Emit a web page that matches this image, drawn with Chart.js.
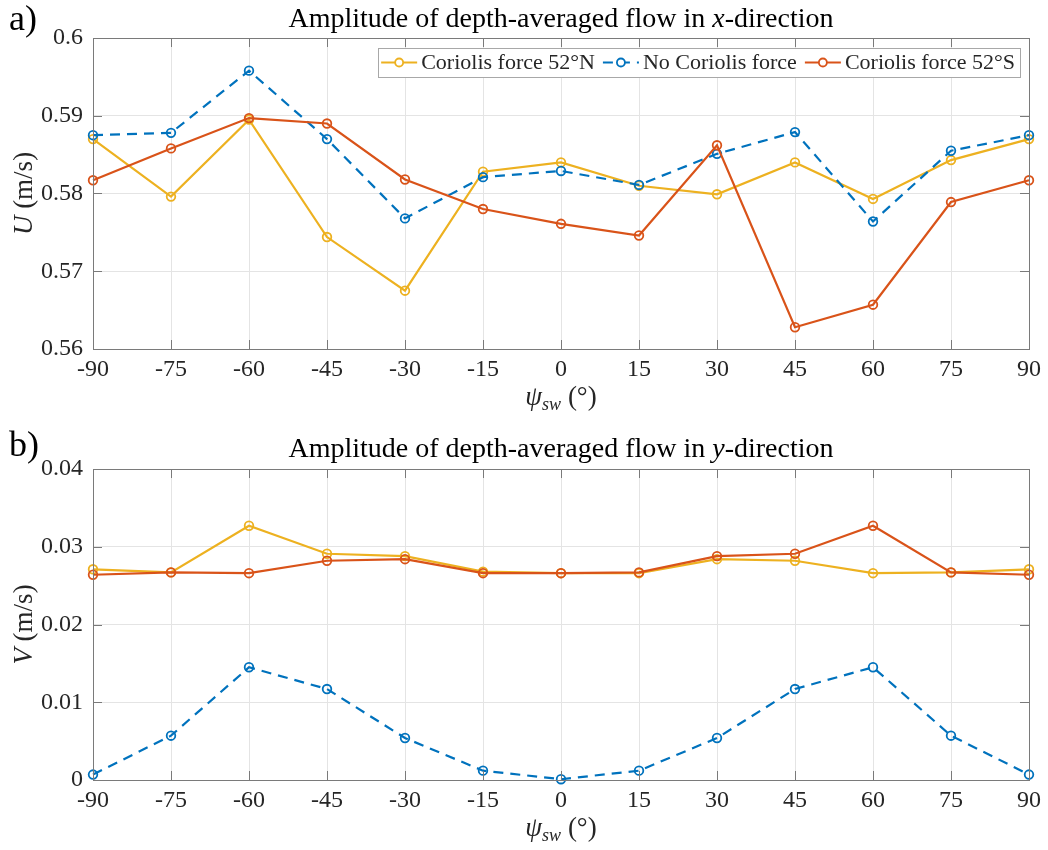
<!DOCTYPE html>
<html><head><meta charset="utf-8">
<script src="https://cdn.jsdelivr.net/npm/chart.js@4.4.0/dist/chart.umd.min.js"></script>
<style>
html,body{margin:0;padding:0;background:#fff;}
#wrap{width:1048px;height:850px;position:relative;background:#fff;}
canvas{position:absolute;left:0;}
</style></head><body>
<div id="wrap">
<canvas id="c1" width="1048" height="425" style="top:0"></canvas>
<canvas id="c2" width="1048" height="425" style="top:425px"></canvas>
</div>
<script>
// ---- data ----
const angles = [-90,-75,-60,-45,-30,-15,0,15,30,45,60,75,90];
const xTickLabels = ['-90','-75','-60','-45','-30','-15','0','15','30','45','60','75','90'];
const seriesNames = ['Coriolis force 52°N','No Coriolis force','Coriolis force 52°S'];

const uNorth = [0.5870,0.5796,0.5895,0.5744,0.5675,0.5828,0.5840,0.5810,0.5799,0.5840,0.5793,0.5843,0.5870];
const uNone  = [0.5875,0.5878,0.5958,0.5870,0.5768,0.5821,0.5829,0.5811,0.5851,0.5879,0.5764,0.5855,0.5875];
const uSouth = [0.5817,0.5858,0.5897,0.5890,0.5818,0.5780,0.5761,0.5746,0.5862,0.5628,0.5657,0.5789,0.5817];
const uTickLabels = ['0.56','0.57','0.58','0.59','0.6'];

const vNorth = [0.0271,0.0267,0.0327,0.0291,0.0288,0.0268,0.0266,0.0266,0.0284,0.0282,0.0266,0.0267,0.0271];
const vNone  = [0.0007,0.0057,0.0145,0.0117,0.0054,0.0012,0.0001,0.0012,0.0054,0.0117,0.0145,0.0057,0.0007];
const vSouth = [0.0264,0.0267,0.0266,0.0282,0.0284,0.0266,0.0266,0.0267,0.0288,0.0291,0.0327,0.0267,0.0264];
const vTickLabels = ['0','0.01','0.02','0.03','0.04'];

// ---- styles ----
const FONT = "'Liberation Serif', serif";
const colors = ['#EDB120','#0072BD','#D95319'];
const dashes = [[],[10,7],[]];
const drawOrder = [2,1,0];
const gridColor = '#e4e4e4';
const boxColor = '#7a7a7a';
const textColor = '#262626';

function fontStr(s){ return (s.italic?'italic ':'') + s.size + 'px ' + FONT; }
function drawRich(ctx, segs, x, y) {
  const widths = segs.map(s => { ctx.font = fontStr(s); return ctx.measureText(s.t).width; });
  const total = widths.reduce((a,b)=>a+b,0);
  let cx = x - total/2;
  ctx.textAlign = 'left';
  segs.forEach((s,i) => { ctx.font = fontStr(s); ctx.fillText(s.t, cx, y + (s.dy||0)); cx += widths[i]; });
}

const deco = {
  id: 'deco',
  afterDraw(chart, args, o) {
    const ctx = chart.ctx, a = chart.chartArea;
    const xs = chart.scales.x, ys = chart.scales.y;
    ctx.save();
    // box
    ctx.strokeStyle = boxColor; ctx.lineWidth = 1; ctx.setLineDash([]);
    ctx.strokeRect(Math.round(a.left)+0.5, Math.round(a.top)+0.5, Math.round(a.right-a.left), Math.round(a.bottom-a.top));
    // inward ticks
    ctx.beginPath();
    const tl = 9;
    xs.ticks.forEach(t => {
      const px = Math.round(xs.getPixelForValue(t.value))+0.5;
      ctx.moveTo(px, a.bottom); ctx.lineTo(px, a.bottom - tl);
      ctx.moveTo(px, a.top); ctx.lineTo(px, a.top + tl);
    });
    ys.ticks.forEach(t => {
      const py = Math.round(ys.getPixelForValue(t.value))+0.5;
      ctx.moveTo(a.left, py); ctx.lineTo(a.left + tl, py);
      ctx.moveTo(a.right, py); ctx.lineTo(a.right - tl, py);
    });
    ctx.stroke();
    // texts
    ctx.fillStyle = '#000';
    ctx.textBaseline = 'alphabetic';
    const cx = (a.left + a.right)/2;
    drawRich(ctx, o.title, cx, o.titleY);
    ctx.font = '36px ' + FONT; ctx.textAlign = 'left';
    ctx.fillText(o.panel, 9, o.panelY);
    ctx.fillStyle = textColor;
    drawRich(ctx, o.xTitle, cx, o.xTitleY);
    ctx.save();
    ctx.translate(o.yTitleX, (a.top + a.bottom)/2);
    ctx.rotate(-Math.PI/2);
    drawRich(ctx, o.yTitle, 0, 0);
    ctx.restore();
    // legend
    if (o.legend) {
      ctx.font = '22px ' + FONT;
      const sample = 36, gapA = 4, gapB = 8, padL = 3, padR = 5;
      const tw = seriesNames.map(n => ctx.measureText(n).width);
      let total = padL + padR;
      tw.forEach((w,i) => { total += sample + gapA + w + (i < tw.length-1 ? gapB : 0); });
      const right = a.right - 9, top = a.top + 10, h = 29;
      const left = right - total;
      ctx.fillStyle = '#fff';
      ctx.fillRect(left, top, total, h);
      ctx.strokeStyle = '#a8a8a8'; ctx.lineWidth = 1;
      ctx.strokeRect(Math.round(left)+0.5, top+0.5, Math.round(total), h);
      let x = left + padL;
      const my = top + h/2;
      chart.data.datasets.forEach((d,i) => {
        ctx.strokeStyle = d.borderColor; ctx.lineWidth = 2.2;
        ctx.setLineDash(d.borderDash || []);
        ctx.beginPath(); ctx.moveTo(x, my); ctx.lineTo(x + sample, my); ctx.stroke();
        ctx.setLineDash([]);
        ctx.lineWidth = 1.8; ctx.fillStyle = '#fff';
        ctx.beginPath(); ctx.arc(x + sample/2, my, 4, 0, Math.PI*2); ctx.fill(); ctx.stroke();
        x += sample + gapA;
        ctx.fillStyle = textColor; ctx.font = '22px ' + FONT; ctx.textBaseline = 'middle';
        ctx.fillText(seriesNames[i], x, my + 1);
        x += tw[i] + gapB;
      });
    }
    ctx.restore();
  }
};

function makeChart(id, vals, yMin, yMax, yStep, yLabels, padTop, xHeight, opts) {
  const datasets = vals.map((v,i) => ({
    label: seriesNames[i],
    data: angles.map((a,j) => ({x: a, y: v[j]})),
    borderColor: colors[i],
    backgroundColor: colors[i],
    borderWidth: 2.2,
    borderDash: dashes[i],
    pointRadius: 4.3,
    pointBorderWidth: 1.8,
    pointBackgroundColor: 'rgba(255,255,255,0)',
    pointBorderColor: colors[i],
    tension: 0,
    order: drawOrder[i],
    clip: false
  }));
  return new Chart(document.getElementById(id), {
    type: 'line',
    data: { datasets },
    plugins: [deco],
    options: {
      responsive: false, animation: false, devicePixelRatio: 1,
      layout: { padding: { top: padTop, right: 19, left: 0, bottom: 0 } },
      plugins: { legend: { display: false }, tooltip: { enabled: false }, deco: opts },
      scales: {
        x: {
          type: 'linear', min: -90, max: 90,
          afterFit: s => { s.height = xHeight; },
          grid: { color: gridColor, drawTicks: false, lineWidth: 1 },
          border: { display: false },
          ticks: { stepSize: 15, padding: 6, maxRotation: 0, autoSkip: false, color: textColor,
                   font: { size: 24, family: FONT },
                   callback: (v, i) => xTickLabels[i] }
        },
        y: {
          type: 'linear', min: yMin, max: yMax,
          afterFit: s => { s.width = 93; },
          grid: { color: gridColor, drawTicks: false, lineWidth: 1 },
          border: { display: false },
          ticks: { stepSize: yStep, padding: 10, color: textColor,
                   font: { size: 24, family: FONT },
                   callback: (v, i) => yLabels[i] }
        }
      }
    }
  });
}

makeChart('c1', [uNorth, uNone, uSouth], 0.56, 0.6, 0.01, uTickLabels, 38, 76, {
  panel: 'a)', panelY: 30, legend: true,
  title: [{t:'Amplitude of depth-averaged flow in ', size:28}, {t:'x', size:28, italic:true}, {t:'-direction', size:28}],
  titleY: 27,
  xTitle: [{t:'ψ', size:27, italic:true}, {t:'sw', size:18, italic:true, dy:5}, {t:' (°)', size:27}],
  xTitleY: 405,
  yTitle: [{t:'U', size:27, italic:true}, {t:' (m/s)', size:27}],
  yTitleX: 32
});
makeChart('c2', [vNorth, vNone, vSouth], 0, 0.04, 0.01, vTickLabels, 44, 70, {
  panel: 'b)', panelY: 31, legend: false,
  title: [{t:'Amplitude of depth-averaged flow in ', size:28}, {t:'y', size:28, italic:true}, {t:'-direction', size:28}],
  titleY: 32,
  xTitle: [{t:'ψ', size:27, italic:true}, {t:'sw', size:18, italic:true, dy:5}, {t:' (°)', size:27}],
  xTitleY: 411,
  yTitle: [{t:'V', size:27, italic:true}, {t:' (m/s)', size:27}],
  yTitleX: 32
});
</script>
</body></html>
